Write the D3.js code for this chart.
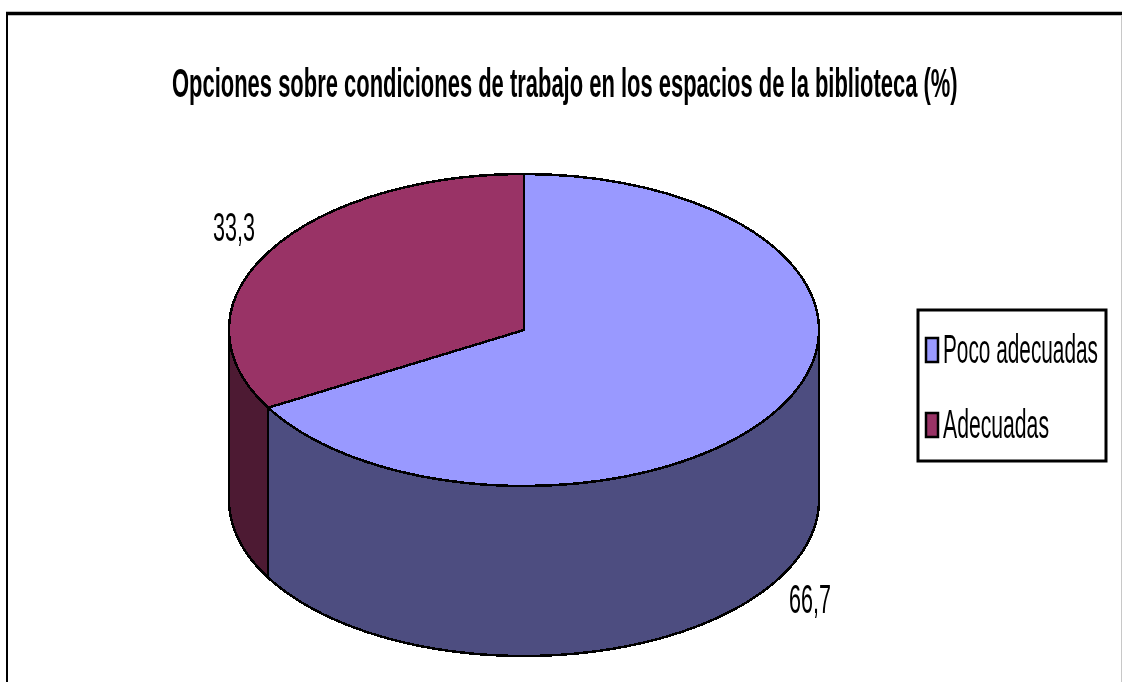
<!DOCTYPE html>
<html>
<head>
<meta charset="utf-8">
<script src="https://cdn.jsdelivr.net/npm/d3@7"></script>
<style>
  html, body { margin: 0; padding: 0; background: #fff; }
  svg { display: block; }
  text { font-family: "Liberation Sans", Arial, sans-serif; fill: #000; }
</style>
</head>
<body>
<div id="container"></div>
<script>
var categories = ["Poco adecuadas", "Adecuadas"];
var values = [66.7, 33.3];
var valueLabels = ["66,7", "33,3"];
var topColors = ["#9999ff", "#993366"];
var sideColors = ["#4d4d80", "#4d1a33"];
var title = "Opciones sobre condiciones de trabajo en los espacios de la biblioteca (%)";

var svg_width = 1122,
    svg_height = 682;

// pie geometry, top ellipse plus wall height
var cx = 524, cy = 330, rx = 295, ry = 156, depth = 170;

var svg = d3.select("#container").append("svg")
    .attr("width", svg_width)
    .attr("height", svg_height);

// the source is a stretched screenshot, so everything is a little soft
var defs = svg.append("defs");
defs.append("filter").attr("id", "soft")
    .attr("x", "-5%").attr("y", "-20%").attr("width", "110%").attr("height", "140%")
    .append("feGaussianBlur").attr("stdDeviation", 0.7);

// squeeze a text sideways so it takes the given width, same look as the source
function squeeze(sel, x, y, width) {
    sel.each(function() {
        var sx = width / this.getComputedTextLength();
        d3.select(this).attr("transform", "translate(" + x + "," + y + ") scale(" + sx + ",1)");
    });
}

// frame: heavy top and left, faint right
svg.append("line").attr("x1", 6).attr("x2", svg_width).attr("y1", 13.5).attr("y2", 13.5)
    .attr("stroke", "#000").attr("stroke-width", 3.5);
svg.append("line").attr("x1", 7).attr("x2", 7).attr("y1", 12).attr("y2", svg_height)
    .attr("stroke", "#000").attr("stroke-width", 2);
svg.append("line").attr("x1", 1121.5).attr("x2", 1121.5).attr("y1", 15).attr("y2", svg_height)
    .attr("stroke", "#c8c8c8").attr("stroke-width", 1);

svg.append("text")
    .attr("font-size", 41)
    .attr("font-weight", "bold")
    .attr("filter", "url(#soft)")
    .text(title)
    .call(squeeze, 172, 97, 786);

var pie = d3.pie().sort(null).value(function(d) { return d; });
var slices = pie(values);

// angle 0 is the top of the ellipse, going clockwise like d3.arc
function ex(a) { return cx + rx * Math.sin(a); }
function ey(a) { return cy - ry * Math.cos(a); }

var chart = svg.append("g").attr("shape-rendering", "crispEdges");

// walls: only the front half of the ellipse (PI/2 to 3PI/2) shows
var wallLine = d3.line();
slices.forEach(function(s, i) {
    var a0 = Math.max(s.startAngle, Math.PI / 2),
        a1 = Math.min(s.endAngle, 3 * Math.PI / 2);
    if (a1 <= a0) return;
    var angles = d3.range(0, 61).map(function(k) { return a0 + (a1 - a0) * k / 60; });
    var upper = angles.map(function(a) { return [ex(a), ey(a)]; });
    var lower = angles.slice().reverse().map(function(a) { return [ex(a), ey(a) + depth]; });
    chart.append("path")
        .attr("d", wallLine(upper.concat(lower)) + "Z")
        .attr("fill", sideColors[i])
        .attr("stroke", "#000")
        .attr("stroke-width", 2.5);
});

// top face: a normal d3.arc squashed into an ellipse
var arc = d3.arc().innerRadius(0).outerRadius(rx);
chart.selectAll(".slice")
    .data(slices)
    .enter().append("path")
    .attr("class", "slice")
    .attr("d", arc)
    .attr("transform", "translate(" + cx + "," + cy + ") scale(1," + (ry / rx) + ")")
    .attr("fill", function(d, i) { return topColors[i]; })
    .attr("stroke", "#000")
    .attr("stroke-width", 2.5)
    .attr("vector-effect", "non-scaling-stroke");

// value labels
var labelPos = [[789, 613], [213, 241]];
svg.selectAll(".value")
    .data(valueLabels)
    .enter().append("text")
    .attr("class", "value")
    .attr("font-size", 41)
    .attr("filter", "url(#soft)")
    .text(function(d) { return d; })
    .each(function(d, i) {
        d3.select(this).call(squeeze, labelPos[i][0], labelPos[i][1], 42);
    });

// legend
var legend = svg.append("g").attr("transform", "translate(918,310)");
legend.append("rect")
    .attr("width", 188).attr("height", 151)
    .attr("fill", "#fff").attr("stroke", "#000").attr("stroke-width", 3);

var row = d3.scalePoint().domain(categories).range([40, 115]);
var textWidths = [155, 106];

var rows = legend.selectAll(".row")
    .data(categories)
    .enter().append("g")
    .attr("class", "row")
    .attr("transform", function(d) { return "translate(0," + row(d) + ")"; });

rows.append("rect")
    .attr("x", 8).attr("y", -12)
    .attr("width", 12).attr("height", 24)
    .attr("fill", function(d, i) { return topColors[i]; })
    .attr("stroke", "#000").attr("stroke-width", 2.5);

rows.append("text")
    .attr("font-size", 41)
    .attr("filter", "url(#soft)")
    .text(function(d) { return d; })
    .each(function(d, i) {
        d3.select(this).call(squeeze, 25, 13, textWidths[i]);
    });
</script>
</body>
</html>
